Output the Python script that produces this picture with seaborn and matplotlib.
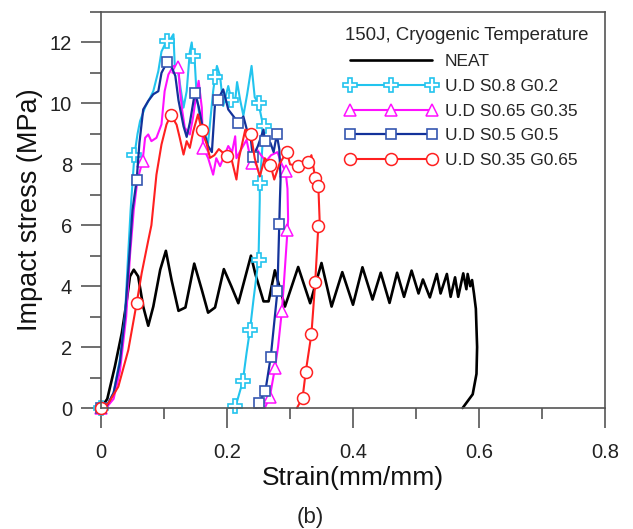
import numpy as np
import pandas as pd
import matplotlib
matplotlib.use("Agg")
import matplotlib.pyplot as plt
import seaborn as sns
from matplotlib.ticker import MultipleLocator

# ---------------- data ----------------
neat_x = [0.000, 0.010, 0.022, 0.033, 0.041, 0.046, 0.052, 0.059, 0.067, 0.075, 0.083, 0.094,
          0.103, 0.112, 0.123, 0.134, 0.148, 0.160, 0.170, 0.181, 0.195, 0.207, 0.218, 0.238,
          0.245, 0.258, 0.266, 0.276, 0.292, 0.313, 0.332, 0.350, 0.366, 0.383, 0.400, 0.415,
          0.431, 0.444, 0.458, 0.470, 0.481, 0.493, 0.504, 0.511, 0.522, 0.533, 0.539, 0.549,
          0.555, 0.562, 0.567, 0.575, 0.580, 0.582, 0.586, 0.589, 0.592, 0.595, 0.597, 0.596,
          0.590, 0.574]
neat_y = [0.00, 0.30, 1.36, 2.46, 3.55, 4.32, 4.54, 4.32, 3.33, 2.70, 3.33, 4.54,
          5.16, 4.20, 3.19, 3.30, 4.74, 3.88, 3.13, 3.30, 4.56, 3.99, 3.44, 5.00,
          4.40, 3.50, 3.50, 4.52, 3.33, 4.63, 3.44, 4.76, 3.33, 4.46, 3.39, 4.62,
          3.56, 4.44, 3.45, 4.44, 3.65, 4.51, 3.76, 4.22, 3.63, 4.40, 3.76, 4.40,
          3.65, 4.29, 3.65, 4.42, 3.90, 4.40, 4.00, 4.20, 3.76, 3.26, 2.00, 1.12,
          0.45, 0.00]

s08_x = [0.000, 0.010, 0.020, 0.030, 0.038, 0.043, 0.047, 0.053, 0.058, 0.062, 0.070, 0.078,
         0.083, 0.091, 0.096, 0.104, 0.110, 0.115, 0.117, 0.123, 0.131, 0.136, 0.141, 0.144,
         0.146, 0.149, 0.152, 0.157, 0.165, 0.170, 0.178, 0.181, 0.184, 0.189, 0.194, 0.202,
         0.207, 0.213, 0.216, 0.221, 0.226, 0.232, 0.239, 0.244, 0.250, 0.255, 0.258, 0.255,
         0.252, 0.252, 0.250, 0.242, 0.2365, 0.231, 0.225, 0.215, 0.213]
s08_y = [0.00, 0.10, 0.50, 1.60, 3.00, 5.00, 6.50, 8.30, 9.00, 9.42, 9.87, 10.19,
         10.40, 11.06, 11.70, 12.05, 12.10, 12.27, 11.28, 10.95, 9.86, 10.40, 11.70, 12.00,
         11.56, 11.30, 10.20, 9.53, 8.98, 8.70, 10.40, 10.85, 11.23, 10.90, 9.91, 10.57,
         10.10, 10.10, 10.70, 10.10, 9.60, 10.30, 11.23, 10.20, 10.00, 9.50, 9.25, 8.20,
         7.39, 6.84, 4.87, 3.55, 2.57, 1.80, 0.87, 0.15, 0.05]
s08_marks = [0, 7, 15, 24, 31, 36, 44, 46, 48, 50, 52, 54, 56]

s065_x = [0.000, 0.010, 0.020, 0.030, 0.040, 0.046, 0.052, 0.058, 0.066, 0.070, 0.075, 0.080,
          0.088, 0.096, 0.101, 0.107, 0.115, 0.123, 0.125, 0.129, 0.133, 0.141, 0.146, 0.152,
          0.155, 0.160, 0.162, 0.170, 0.178, 0.183, 0.189, 0.194, 0.202, 0.208, 0.213, 0.215,
          0.220, 0.231, 0.239, 0.247, 0.254, 0.262, 0.270, 0.280, 0.287, 0.293, 0.296, 0.297,
          0.296, 0.290, 0.287, 0.281, 0.276, 0.268, 0.260]
s065_y = [0.00, 0.05, 0.30, 1.20, 3.00, 5.00, 6.50, 7.50, 8.10, 8.87, 8.98, 8.76,
          8.87, 9.31, 10.40, 10.95, 11.23, 11.20, 10.50, 9.75, 9.20, 8.98, 9.53, 10.40,
          10.74, 9.86, 8.54, 8.21, 7.66, 8.20, 7.94, 8.20, 8.60, 8.40, 8.92, 8.20,
          8.40, 8.80, 8.03, 8.50, 8.30, 8.10, 8.30, 8.40, 8.00, 7.77, 7.20, 6.20,
          5.83, 4.00, 3.17, 2.00, 1.30, 0.37, 0.00]
s065_marks = [0, 8, 17, 26, 38, 45, 48, 50, 52, 53]

s05_x = [0.000, 0.010, 0.020, 0.030, 0.038, 0.045, 0.050, 0.0566, 0.061, 0.067, 0.075, 0.083,
         0.091, 0.096, 0.105, 0.112, 0.118, 0.123, 0.131, 0.136, 0.141, 0.149, 0.155, 0.162,
         0.170, 0.176, 0.181, 0.185, 0.194, 0.202, 0.213, 0.217, 0.226, 0.232, 0.238, 0.241,
         0.249, 0.258, 0.260, 0.269, 0.274, 0.279, 0.283, 0.285, 0.284, 0.283, 0.280, 0.2695,
         0.261, 0.250, 0.246]
s05_y = [0.00, 0.10, 0.50, 1.50, 3.00, 5.00, 6.50, 7.48, 8.70, 9.80, 10.08, 10.30,
         10.40, 11.00, 11.36, 11.20, 10.90, 10.10, 9.25, 8.90, 9.36, 10.35, 9.90, 9.14,
         8.60, 8.40, 10.00, 10.10, 10.46, 9.80, 9.50, 9.34, 9.57, 9.10, 8.80, 8.24,
         8.60, 9.14, 8.75, 8.70, 8.40, 8.98, 8.50, 7.50, 6.84, 6.05, 3.83, 1.69,
         0.57, 0.15, 0.00]
s05_marks = [0, 7, 14, 21, 27, 31, 35, 38, 41, 45, 46, 47, 48, 49]

s035_x = [0.000, 0.0116, 0.0275, 0.0433, 0.0566, 0.0646, 0.075, 0.080, 0.088, 0.096, 0.104, 0.111,
          0.120, 0.125, 0.131, 0.136, 0.141, 0.1465, 0.154, 0.160, 0.168, 0.173, 0.180, 0.187,
          0.1995, 0.208, 0.215, 0.219, 0.229, 0.238, 0.244, 0.252, 0.260, 0.269, 0.275, 0.283,
          0.295, 0.300, 0.313, 0.321, 0.329, 0.334, 0.340, 0.345, 0.347, 0.345, 0.340, 0.334,
          0.325, 0.320, 0.311]
s035_y = [0.00, 0.15, 0.70, 1.90, 3.44, 4.43, 5.50, 6.00, 7.66, 8.65, 9.31, 9.62,
          9.30, 8.87, 8.32, 8.76, 8.54, 9.09, 9.64, 9.11, 8.65, 8.21, 8.30, 8.50,
          8.27, 8.10, 7.50, 8.20, 9.14, 9.00, 8.20, 7.60, 8.20, 7.98, 7.50, 8.00,
          8.42, 8.00, 7.94, 8.10, 8.07, 8.30, 7.55, 7.28, 6.18, 5.99, 4.12, 2.43,
          1.19, 0.34, 0.00]
s035_marks = [0, 4, 11, 19, 24, 29, 33, 36, 38, 40, 42, 43, 45, 46, 47, 48, 49]

series_labels = ["NEAT", "U.D S0.8 G0.2", "U.D S0.65 G0.35", "U.D S0.5 G0.5", "U.D S0.35 G0.65"]
legend_title = "150J, Cryogenic Temperature"
x_ticks = [0, 0.2, 0.4, 0.6, 0.8]
x_ticklabels = ["0", "0.2", "0.4", "0.6", "0.8"]
y_ticks = [0, 2, 4, 6, 8, 10, 12]
y_ticklabels = ["0", "2", "4", "6", "8", "10", "12"]

# ---------------- figure ----------------
sns.set_style("ticks")
plt.rcParams["font.family"] = ["Liberation Sans", "DejaVu Sans"]

W, H = 633, 529
fig = plt.figure(figsize=(W / 100, H / 100), dpi=100)
ax = fig.add_axes([101 / W, 1 - 408 / H, (605 - 101) / W, (408 - 12) / H])

styles = [
    dict(color="black", lw=1.9, marker=None),
    dict(color="#22c4ee", lw=1.5, marker="P", mec="#22c4ee", ms=9.5, mew=1.2),
    dict(color="#ff10ff", lw=1.5, marker="^", mec="#ff10ff", ms=8.5, mew=1.1),
    dict(color="#13329a", lw=1.6, marker="s", mec="#3556b0", ms=7.8, mew=1.2),
    dict(color="#ff2020", lw=1.5, marker="o", mec="#ff2020", ms=8.6, mew=1.1),
]
xs = [neat_x, s08_x, s065_x, s05_x, s035_x]
ys = [neat_y, s08_y, s065_y, s05_y, s035_y]
marks = [None, s08_marks, s065_marks, s05_marks, s035_marks]

handles = []
for x, y, lab, st, mk in zip(xs, ys, series_labels, styles, marks):
    df = pd.DataFrame({"x": x, "y": y})
    kw = dict(color=st["color"], linewidth=st["lw"], clip_on=False)
    if st["marker"] is not None:
        kw.update(marker=st["marker"], markevery=mk, markersize=st["ms"],
                  markerfacecolor="white", markeredgecolor=st["mec"],
                  markeredgewidth=st["mew"])
    sns.lineplot(data=df, x="x", y="y", sort=False, estimator=None, ax=ax,
                 label=lab, legend=False, **kw)
    handles.append(ax.lines[-1])

ax.set_xlim(0, 0.8)
ax.set_ylim(0, 13)
ax.set_xticks(x_ticks)
ax.set_xticklabels(x_ticklabels)
ax.set_yticks(y_ticks)
ax.set_yticklabels(y_ticklabels)
ax.xaxis.set_minor_locator(MultipleLocator(0.1))
ax.yaxis.set_minor_locator(MultipleLocator(1))

spine_c = "#555555"
for s in ax.spines.values():
    s.set_color(spine_c)
    s.set_linewidth(1.2)
ax.tick_params(which="major", direction="out", length=14.4, width=1.2, color=spine_c,
               labelsize=14.5, labelcolor="#222222")
ax.tick_params(which="minor", direction="out", length=7.9, width=1.2, color=spine_c)
ax.tick_params(axis="x", which="major", pad=10.5)
ax.tick_params(axis="y", which="major", pad=6.5)
ax.tick_params(top=False, right=False, which="both")

ax.set_xlabel("Strain(mm/mm)", fontsize=19, color="#111111", labelpad=3)
ax.set_ylabel("Impact stress (MPa)", fontsize=19.5, color="#111111", labelpad=5)
fig.text(310 / W, 1 - 518 / H, "(b)", fontsize=16, ha="center", va="center", color="#222222")

leg = ax.legend(handles=handles, labels=series_labels, title=legend_title,
                loc="upper left", bbox_to_anchor=(345 / W, 1 - 27 / H),
                bbox_transform=fig.transFigure, frameon=False, fontsize=12.5,
                title_fontsize=13.4, numpoints=3, handlelength=5.3, handletextpad=0.45,
                labelspacing=0.56, borderpad=0, borderaxespad=0, alignment="left")

fig.savefig("out.png", dpi=100)
